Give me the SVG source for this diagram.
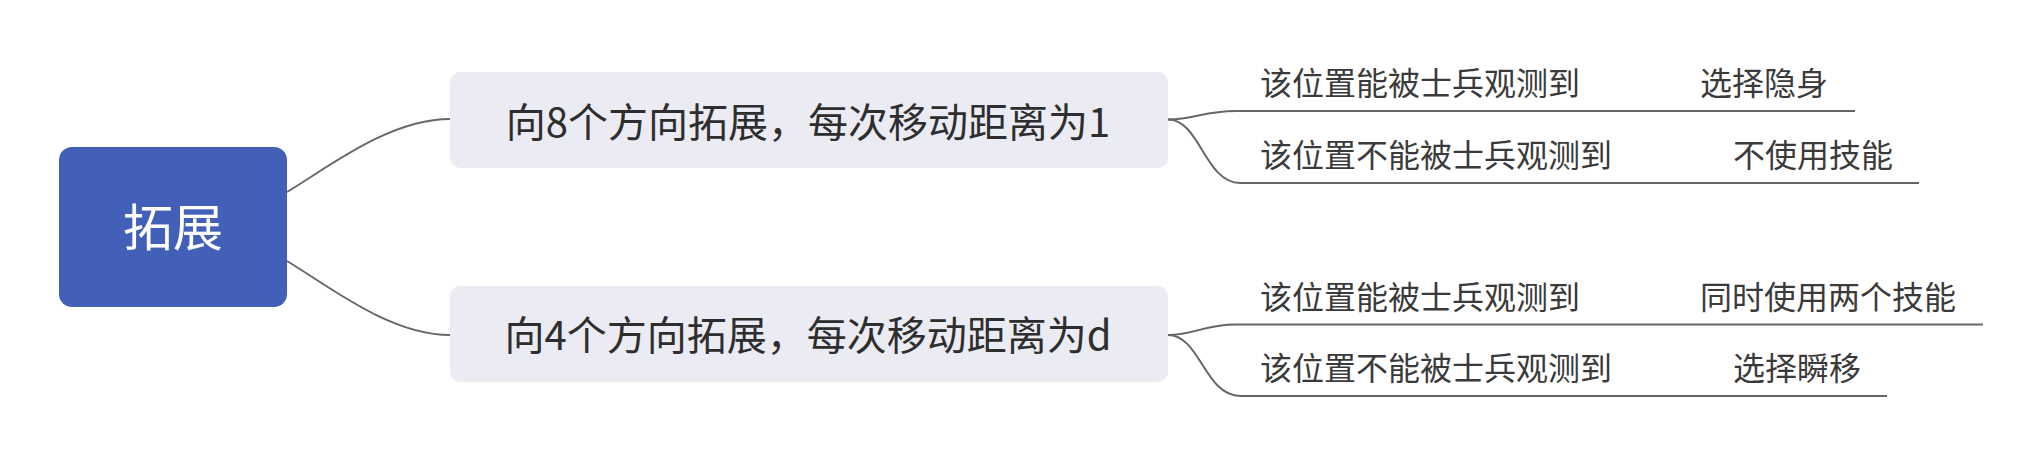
<svg xmlns="http://www.w3.org/2000/svg" width="2036" height="456" viewBox="0 0 2036 456">
<style>
text{font-family:"Noto Sans CJK SC","Noto Sans",sans-serif;}
.root{fill:#4360B9;}
.rootT{fill:#FFFFFF;font-size:50px;text-anchor:middle;}
.branch{fill:#EBEBF3;}
.branchT{fill:#2E2E2E;font-size:40px;text-anchor:middle;}
.leafT{fill:#3A3A3A;font-size:32px;}
.conn{fill:none;stroke:#666666;stroke-width:2;}
.conn0{fill:none;stroke:#666666;stroke-width:1.8;}
</style>
<rect width="2036" height="456" fill="#FFFFFF"/>
<g id="connectors">
<path class="conn0" d="M287,192 C330,166 390,119 450,119"/>
<path class="conn0" d="M287,261 C330,287 390,335 450,335"/>
<path class="conn" d="M1168,119.5 C1195,119.5 1203,111 1236,111 H1855"/>
<path class="conn" d="M1168,119.5 C1200,119.5 1205,183 1240,183 H1919"/>
<path class="conn" d="M1168,335 C1195,335 1203,324.5 1236,324.5 H1983"/>
<path class="conn" d="M1168,335 C1200,335 1205,396 1240,396 H1887"/>
</g>
<g id="root">
<rect class="root" x="59" y="147" width="228" height="160" rx="13"/>
<text class="rootT" x="173" y="246">拓展</text>
</g>
<g id="branch1">
<rect class="branch" x="450" y="72" width="718" height="96" rx="10"/>
<text class="branchT" x="808" y="137">向8个方向拓展，每次移动距离为1</text>
</g>
<g id="branch2">
<rect class="branch" x="450" y="286" width="718" height="96" rx="10"/>
<text class="branchT" x="808" y="350">向4个方向拓展，每次移动距离为d</text>
</g>
<g id="leaf1">
<text class="leafT" x="1260" y="95">该位置能被士兵观测到<tspan x="1700">选择隐身</tspan></text>
</g>
<g id="leaf2">
<text class="leafT" x="1260" y="167">该位置不能被士兵观测到<tspan x="1733">不使用技能</tspan></text>
</g>
<g id="leaf3">
<text class="leafT" x="1260" y="309">该位置能被士兵观测到<tspan x="1700">同时使用两个技能</tspan></text>
</g>
<g id="leaf4">
<text class="leafT" x="1260" y="380">该位置不能被士兵观测到<tspan x="1733">选择瞬移</tspan></text>
</g>
</svg>
